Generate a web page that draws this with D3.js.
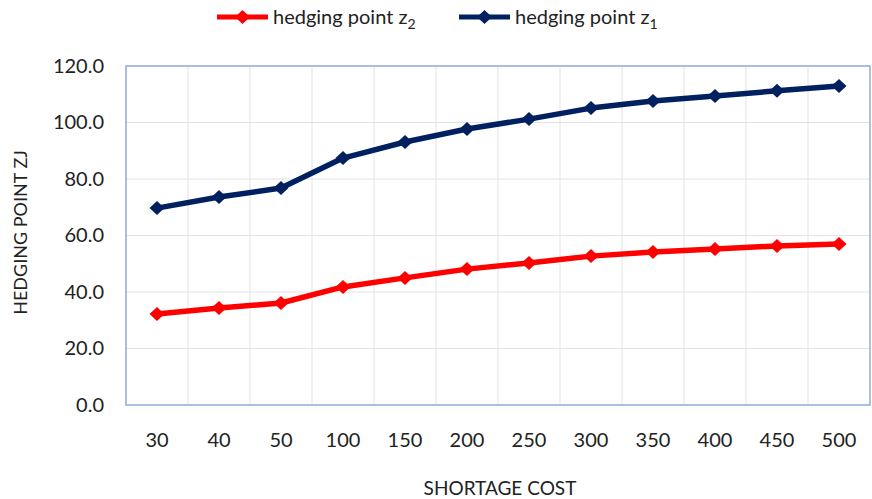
<!DOCTYPE html>
<html lang="en">
<head>
<meta charset="utf-8">
<title>Hedging point</title>
<script src="https://cdn.jsdelivr.net/npm/d3@7"></script>
<style>
  body { margin: 0; background: #fff; }
  text { font-family: Lato, "Open Sans", sans-serif; fill: #222; }
</style>
</head>
<body>
<script>
// data
var costs = ['30', '40', '50', '100', '150', '200', '250', '300', '350', '400', '450', '500'];
var z2 = [32.2, 34.3, 36.1, 41.8, 45.0, 48.1, 50.3, 52.7, 54.2, 55.2, 56.3, 57.0];
var z1 = [69.7, 73.6, 76.8, 87.4, 93.1, 97.7, 101.2, 105.1, 107.6, 109.4, 111.2, 112.9];
var yTicks = [0, 20, 40, 60, 80, 100, 120];

var width = 872, height = 499;
var plotL = 126, plotR = 870, plotT = 66, plotB = 405;

var svg = d3.select('body').append('svg')
  .attr('width', width)
  .attr('height', height);

var x = d3.scaleBand().domain(costs).range([plotL, plotR]);
var y = d3.scaleLinear().domain([0, 120]).range([plotB, plotT]);

// grid
var grid = svg.append('g').attr('stroke', '#e3e3e3').attr('stroke-width', 1);
yTicks.forEach(function(t) {
  grid.append('line').attr('x1', plotL).attr('x2', plotR)
    .attr('y1', y(t)).attr('y2', y(t));
});
costs.forEach(function(c) {
  grid.append('line').attr('x1', x(c)).attr('x2', x(c))
    .attr('y1', plotT).attr('y2', plotB);
});

// plot border
svg.append('rect')
  .attr('x', plotL).attr('y', plotT)
  .attr('width', plotR - plotL).attr('height', plotB - plotT)
  .attr('fill', 'none').attr('stroke', '#8fb0dc').attr('stroke-width', 1.5);

// y axis labels
var yAxis = d3.axisLeft(y).tickValues(yTicks).tickFormat(d3.format('.1f')).tickSize(0).tickPadding(22);
var ya = svg.append('g').attr('transform', 'translate(' + plotL + ',0)').call(yAxis);
ya.select('.domain').remove();
ya.selectAll('text').style('font-size', '20px').style('font-family', 'Lato, sans-serif').attr('fill', '#222');

// x axis labels
var xAxis = d3.axisBottom(x).tickSize(0).tickPadding(28);
var xa = svg.append('g').attr('transform', 'translate(0,' + plotB + ')').call(xAxis);
xa.select('.domain').remove();
xa.selectAll('text').style('font-size', '20px').style('font-family', 'Lato, sans-serif').attr('fill', '#222');

// axis titles
svg.append('text')
  .attr('x', (plotL + plotR) / 2 + 2).attr('y', 495)
  .attr('text-anchor', 'middle').style('font-size', '19px')
  .text('SHORTAGE COST');
svg.append('text')
  .attr('transform', 'translate(27,' + ((plotT + plotB) / 2 - 3) + ') rotate(-90)')
  .attr('text-anchor', 'middle').style('font-size', '18px')
  .text('HEDGING POINT ZJ');

var line = d3.line()
  .x(function(d, i) { return x(costs[i]) + x.bandwidth() / 2; })
  .y(function(d) { return y(d); });

// wide diamond marker
var diamond = 'M-7.5,0L0,-7L7.5,0L0,7Z';

function drawSeries(vals, color) {
  svg.append('path').datum(vals)
    .attr('d', line).attr('fill', 'none')
    .attr('stroke', color).attr('stroke-width', 5.5)
    .attr('stroke-linejoin', 'round');
  svg.append('g').selectAll('path').data(vals).enter().append('path')
    .attr('d', diamond)
    .attr('transform', function(d, i) {
      return 'translate(' + (x(costs[i]) + x.bandwidth() / 2) + ',' + y(d) + ')';
    })
    .attr('fill', color);
}

drawSeries(z2, '#ff0000');
drawSeries(z1, '#002060');

// legend
var legend = [
  { name: 'hedging point z', sub: '2', color: '#ff0000', x0: 217 },
  { name: 'hedging point z', sub: '1', color: '#002060', x0: 459 }
];
legend.forEach(function(l) {
  var g = svg.append('g');
  g.append('line').attr('x1', l.x0).attr('x2', l.x0 + 51)
    .attr('y1', 17).attr('y2', 17)
    .attr('stroke', l.color).attr('stroke-width', 5);
  g.append('path').attr('d', diamond)
    .attr('transform', 'translate(' + (l.x0 + 25.5) + ',17)')
    .attr('fill', l.color);
  var t = g.append('text').attr('x', l.x0 + 56).attr('y', 24).style('font-size', '20px');
  t.append('tspan').text(l.name);
  t.append('tspan').attr('dy', 5).style('font-size', '14px').text(l.sub);
});
</script>
</body>
</html>
